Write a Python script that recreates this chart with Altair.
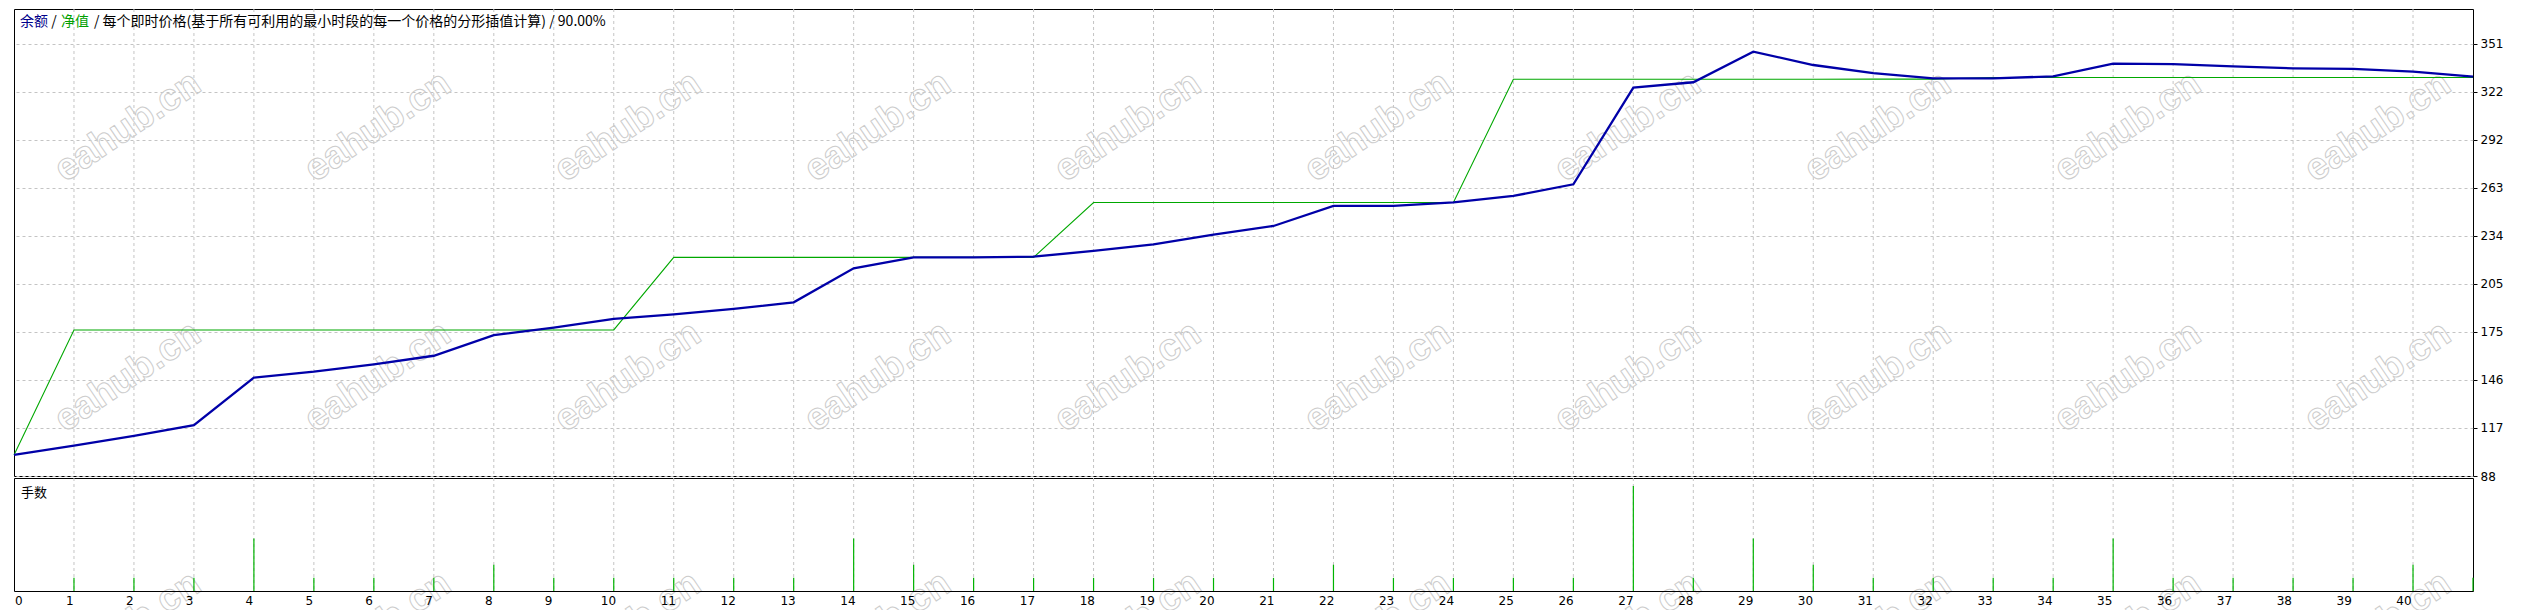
import json
import altair as alt
import pandas as pd

# ---------------- data ----------------
trades = list(range(42))
balance = [100.8, 106.5, 112.4, 119.0, 147.9, 151.5, 156.0, 161.2, 173.8, 178.3,
           183.6, 186.4, 189.7, 193.7, 214.4, 221.1, 221.1, 221.5, 225.0, 229.0,
           234.9, 240.2, 252.4, 252.4, 254.6, 258.5, 265.6, 324.4, 327.7, 346.3,
           338.2, 333.2, 330.1, 330.1, 331.3, 339.0, 338.8, 337.4, 336.2, 335.8,
           334.2, 331.1]
equity = [100.8, 176.9, 176.9, 176.9, 176.9, 176.9, 176.9, 176.9, 176.9, 176.9,
          176.9, 221.1, 221.1, 221.1, 221.1, 221.1, 221.1, 221.1, 254.5, 254.5,
          254.5, 254.5, 254.5, 254.5, 254.5, 329.5, 329.5, 329.5, 329.5, 329.5,
          329.5, 329.6, 329.6, 330.6, 330.6, 330.6, 330.6, 330.6, 330.6, 330.6,
          330.6, 330.6]
lot_trades = list(range(1, 42))
lots = [0.01, 0.01, 0.01, 0.04, 0.01, 0.01, 0.01, 0.02, 0.01, 0.01,
        0.01, 0.01, 0.01, 0.04, 0.02, 0.01, 0.01, 0.01, 0.01, 0.01,
        0.01, 0.02, 0.01, 0.01, 0.01, 0.01, 0.08, 0.01, 0.04, 0.02,
        0.01, 0.01, 0.01, 0.01, 0.04, 0.01, 0.01, 0.01, 0.01, 0.02,
        0.01]
y_tick_labels = ["88", "117", "146", "175", "205", "234", "263", "292", "322", "351"]
x_tick_labels = [str(k) for k in range(41)]

title_balance = "余额"
title_equity = "净值"
title_rest = "/ 每个即时价格(基于所有可利用的最小时段的每一个价格的分形插值计算) / 90.00%"
sub_title = "手数"
watermark_text = "eahub.cn"

# ---------------- layout constants ----------------
W = 2459
H_MAIN = 467
H_SUB = 113
N = 41
PX = W / N
Y_LO, Y_HI = 88.0, 372.3
Y_STEP = (351 - 88) / 9

BLUE = "#0000a8"
GREEN = "#00a800"
GRID = "#c4c4c4"
AXIS_FONT = "DejaVu Sans"
CJK_FONT = "Noto Sans CJK SC"

xscale = alt.Scale(domain=[0, N], nice=False, zero=False)
yscale = alt.Scale(domain=[Y_LO, Y_HI], nice=False, zero=False)

line_df = pd.DataFrame({"k": trades, "balance": balance, "equity": equity})
grid_df = pd.DataFrame({"k": list(range(1, N))})
lots_df = pd.DataFrame({"k": lot_trades, "lots": lots})

# watermark tiling (pixel grid converted to data units)
wm_rows = []
for j in range(3):
    for i in range(10):
        px = 114 + 250 * i
        py = 118 + 250 * j
        wm_rows.append({"wx": px / PX,
                        "wy": Y_HI - py / H_MAIN * (Y_HI - Y_LO),
                        "t": watermark_text})
wm_df = pd.DataFrame(wm_rows)

y_ticks = [Y_LO + Y_STEP * i for i in range(10)]
y_label_expr = "%s[round((datum.value - %f) / %f)]" % (json.dumps(y_tick_labels), Y_LO, Y_STEP)

x_ticks = [0.07] + [(59.85 * k - 4.5) / PX for k in range(1, 41)]
x_label_expr = "%s[round((datum.value * %f + 4.5) / 59.85)]" % (json.dumps(x_tick_labels), PX)

yaxis = alt.Axis(orient="right", values=y_ticks, labelExpr=y_label_expr,
                 grid=True, gridColor=GRID, gridDash=[3, 3], gridWidth=1,
                 domain=False, ticks=True, tickColor="black", tickSize=4,
                 labelFont=AXIS_FONT, labelFontSize=12, labelColor="black",
                 labelPadding=3, labelOverlap=False, labelFlush=False, title=None)

xaxis = alt.Axis(values=x_ticks, labelExpr=x_label_expr, grid=False, ticks=False,
                 domain=False, labelFont=AXIS_FONT, labelFontSize=12,
                 labelColor="black", labelPadding=4, labelFlush=False,
                 labelOverlap=False, title=None)

# ---------------- main panel ----------------
vgrid = alt.Chart(grid_df).mark_rule(color=GRID, strokeDash=[3, 3], strokeWidth=1).encode(
    x=alt.X("k:Q", scale=xscale, axis=None)
)

wm = alt.Chart(wm_df).mark_text(
    font="Liberation Sans", fontSize=38, fontWeight="bold", angle=326,
    align="center", baseline="middle", fillOpacity=0, stroke="#cccccc", strokeWidth=1
).encode(
    x=alt.X("wx:Q", scale=xscale, axis=None),
    y=alt.Y("wy:Q", scale=yscale),
    text="t:N",
)

eq_line = alt.Chart(line_df).mark_line(color=GREEN, strokeWidth=1.1).encode(
    x=alt.X("k:Q", scale=xscale, axis=None),
    y=alt.Y("equity:Q", scale=yscale, axis=yaxis),
)

bal_line = alt.Chart(line_df).mark_line(color=BLUE, strokeWidth=2.3).encode(
    x=alt.X("k:Q", scale=xscale, axis=None),
    y=alt.Y("balance:Q", scale=yscale),
)


def label(text, x, y, color, size=14, align="left"):
    return alt.Chart(pd.DataFrame({"t": [text]})).mark_text(
        align=align, baseline="middle", font=CJK_FONT, fontSize=size, color=color
    ).encode(x=alt.value(x), y=alt.value(y), text="t:N")


t1 = label(title_balance, 6, 13, "#00008b")
t2 = label("/", 40, 13, "black", align="center")
t3 = label(title_equity, 47, 13, "#00a000")
t4 = label(title_rest, 80, 13, "black")

main = alt.layer(vgrid, wm, eq_line, bal_line, t1, t2, t3, t4).properties(
    width=W, height=H_MAIN
)

# ---------------- volume panel ----------------
sub_grid = alt.Chart(grid_df).mark_rule(color=GRID, strokeDash=[3, 3], strokeWidth=1).encode(
    x=alt.X("k:Q", scale=xscale)
)

bars = alt.Chart(lots_df).mark_rule(color="#00b400", strokeWidth=1.2).encode(
    x=alt.X("k:Q", scale=xscale, axis=xaxis),
    y=alt.Y("lots:Q", scale=alt.Scale(domain=[0, 0.086], nice=False, zero=True), axis=None),
    y2=alt.datum(0),
)

t5 = label(sub_title, 7, 15, "black", size=13)

sub = alt.layer(sub_grid, bars, t5).properties(width=W, height=H_SUB)

chart = alt.vconcat(main, sub, spacing=2, bounds="flush").properties(
    padding={"left": 0, "top": 0, "right": 0, "bottom": 0}
).configure_view(stroke="black", strokeWidth=1)

chart.save("out.html", embed_options={"renderer": "svg", "actions": False})
